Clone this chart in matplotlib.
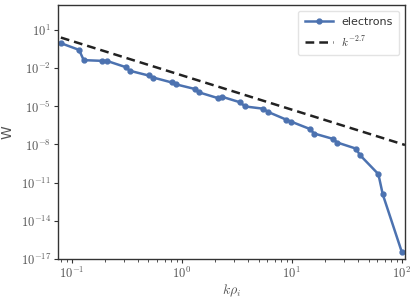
import matplotlib
matplotlib.use("Agg")
import matplotlib.pyplot as plt
import matplotlib.ticker as mticker
import numpy as np

# data
k = [0.080, 0.117, 0.129, 0.190, 0.209, 0.310, 0.339, 0.501, 0.552, 0.816,
     0.893, 1.32, 1.445, 2.125, 2.325, 3.41, 3.76, 5.52, 6.09, 8.93,
     9.85, 14.6, 16.0, 23.7, 26.0, 38.2, 41.8, 61.3, 67.2, 100.0]
logW = [-0.04, -0.566, -1.373, -1.43, -1.43, -1.92, -2.21, -2.58, -2.74, -3.13,
        -3.28, -3.64, -3.91, -4.35, -4.25, -4.69, -5.01, -5.19, -5.44, -6.05,
        -6.20, -6.78, -7.14, -7.56, -7.85, -8.32, -8.84, -10.33, -11.92, -16.44]
W = [10.0 ** v for v in logW]
fit_amp = 2.75e-3
fit_exp = -2.7
fit_k = [0.080, 107.0]
fit_W = [fit_amp * kk ** fit_exp for kk in fit_k]
y_tick_exps = list(range(-17, 2, 3))

plt.rcParams['mathtext.fontset'] = 'cm'
plt.rcParams['font.family'] = ['DejaVu Sans']

fig = plt.figure(figsize=(4.16, 3.0), dpi=100)
ax = fig.add_axes([58 / 416, 41 / 300, (405 - 58) / 416, (259 - 5) / 300])

blue = '#4C72B0'
ax.plot(k, W, color=blue, lw=1.8, marker='o', ms=3.5, label='electrons')
ax.plot(fit_k, fit_W, color='#222222', lw=1.8, ls=(0, (3.5, 2)), label=r'$k^{-2.7}$')

ax.set_xscale('log')
ax.set_yscale('log')
ax.set_xlim(10 ** -1.123, 107)
ax.set_ylim(1e-17, 10 ** 2.96)
ax.yaxis.set_major_locator(mticker.FixedLocator([10.0 ** e for e in y_tick_exps]))
ax.yaxis.set_minor_locator(mticker.NullLocator())


def cm_fmt(v, pos):
    e = int(round(np.log10(v)))
    return r'$10^{%d}$' % e


ax.xaxis.set_major_formatter(mticker.FuncFormatter(cm_fmt))
ax.yaxis.set_major_formatter(mticker.FuncFormatter(cm_fmt))

txtc = '#555555'
for s in ax.spines.values():
    s.set_color('#333333')
    s.set_linewidth(1.0)
ax.tick_params(axis='both', which='major', direction='out', length=3, width=0.8,
               color='#333333', labelcolor=txtc, labelsize=9, pad=2)
ax.tick_params(axis='x', which='minor', direction='out', length=2, width=0.6, color='#333333')

ax.set_xlabel(r'$k\rho_i$', fontsize=10, color=txtc, labelpad=1)
ax.set_ylabel('W', fontsize=10, color=txtc, labelpad=4)

leg = ax.legend(loc='upper right', fontsize=8, frameon=True, fancybox=True,
                edgecolor='#dddddd', handlelength=2.5, borderpad=0.6, labelspacing=0.6)
for t in leg.get_texts():
    t.set_color('#333333')

fig.savefig('out.png', dpi=100)
